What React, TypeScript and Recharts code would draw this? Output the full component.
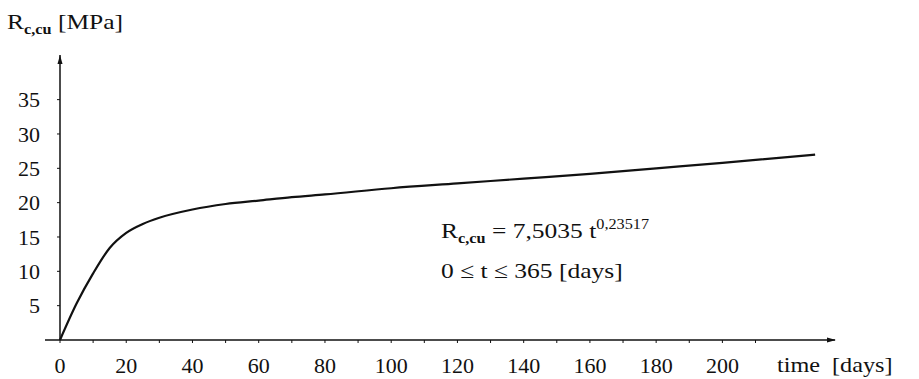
import { LineChart, Line, XAxis, YAxis } from 'recharts';

// strength development
const days = [0, 5, 10, 15, 20, 25, 30, 40, 50, 60, 70, 80, 100, 120, 140, 160, 180, 200, 228];
const strength = [0, 5.3, 9.7, 13.4, 15.6, 16.9, 17.8, 19.0, 19.8, 20.3, 20.8, 21.2, 22.1, 22.8, 23.5, 24.2, 25.0, 25.8, 27.0];

const xTicks = [0, 10, 20, 30, 40, 50, 60, 70, 80, 90, 100, 110, 120, 130, 140, 150, 160, 170, 180, 190, 200, 210];
const yTicks = [5, 10, 15, 20, 25, 30, 35];

const data = days.map((t, i) => ({ t, r: strength[i] }));

const FONT = '"Liberation Serif", "DejaVu Serif", serif';

function XTick({ x, y, payload }: any) {
  if (payload.value % 20 !== 0) return null;
  return (
    <text x={x} y={y} dy="0.71em" textAnchor="middle" fill="#111" fontSize={22} fontFamily={FONT}>
      {payload.value}
    </text>
  );
}

export default function App() {
  return (
    <div style={{ position: 'absolute', left: 0, top: 0, width: 919, height: 379, background: '#fff' }}>
      <LineChart width={919} height={379} data={data} margin={{ top: 55, right: 84, left: 0, bottom: 9 }}>
        <XAxis
          dataKey="t"
          type="number"
          domain={[0, 234]}
          ticks={xTicks}
          interval={0}
          tick={<XTick />}
          tickSize={3}
          tickMargin={14}
          height={30}
          axisLine={{ stroke: '#111', strokeWidth: 1.5 }}
          tickLine={{ stroke: '#111' }}
        />
        <YAxis
          type="number"
          domain={[0, 41.5]}
          ticks={yTicks}
          interval={0}
          width={60}
          tickSize={3}
          tickMargin={17}
          tick={{ fontSize: 22, fill: '#111', fontFamily: FONT }}
          axisLine={{ stroke: '#111', strokeWidth: 1.5 }}
          tickLine={{ stroke: '#111' }}
        />
        <Line
          dataKey="r"
          type="monotone"
          stroke="#111"
          strokeWidth={2.2}
          dot={false}
          isAnimationActive={false}
        />
      </LineChart>
      <svg width={919} height={379} style={{ position: 'absolute', left: 0, top: 0, pointerEvents: 'none' }}>
        <g fontFamily={FONT} fill="#111">
          <g transform="translate(7,29) scale(1.16,1)">
            <text x={0} y={0} fontSize={22}>
              R<tspan fontSize={14} fontWeight="bold" dy={5}>c,cu</tspan>
              <tspan dy={-5}> [MPa]</tspan>
            </text>
          </g>
          <g transform="translate(441,238) scale(1.16,1)">
            <text x={0} y={0} fontSize={22}>
              R<tspan fontSize={14} fontWeight="bold" dy={5}>c,cu</tspan>
              <tspan dy={-5}> = 7,5035 t</tspan>
              <tspan fontSize={14} dy={-9}>0,23517</tspan>
            </text>
          </g>
          <g transform="translate(441,278) scale(1.16,1)">
            <text x={0} y={0} fontSize={22}>0 ≤ t ≤ 365 [days]</text>
          </g>
          <g transform="translate(777,372) scale(1.1,1)">
            <text x={0} y={0} fontSize={22}>{'time\u00a0 [days]'}</text>
          </g>
        </g>
        {/* axis arrowheads and the short overhang left of the origin */}
        <path d="M60 55 L57.5 64 L62.5 64 Z" fill="#111" />
        <path d="M836 340 L827 337.5 L827 342.5 Z" fill="#111" />
        <line x1={45} y1={340} x2={60} y2={340} stroke="#111" strokeWidth={1.5} />
      </svg>
    </div>
  );
}
